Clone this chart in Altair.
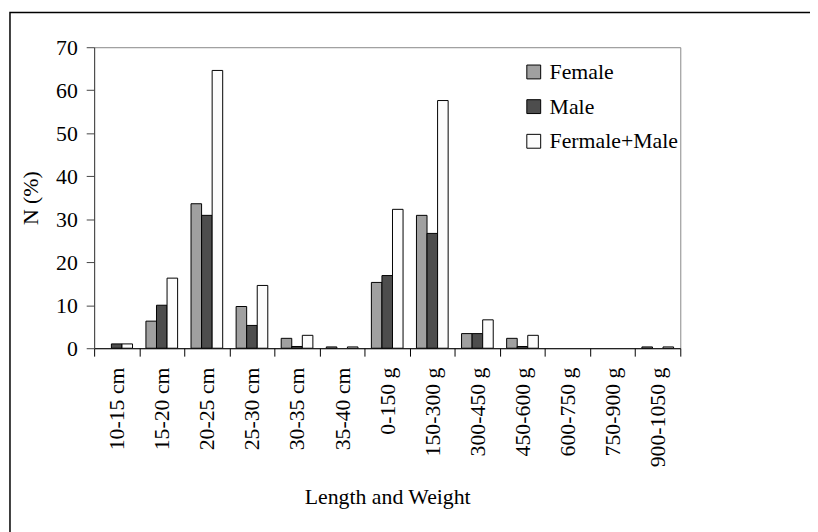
import altair as alt
import pandas as pd

categories = ["10-15 cm", "15-20 cm", "20-25 cm", "25-30 cm", "30-35 cm", "35-40 cm",
              "0-150 g", "150-300 g", "300-450 g", "450-600 g", "600-750 g", "750-900 g",
              "900-1050 g"]
series = ["Female", "Male", "Fermale+Male"]
female = [0.0, 6.3, 33.6, 9.7, 2.3, 0.3, 15.3, 30.9, 3.4, 2.3, 0.0, 0.0, 0.3]
male = [1.0, 10.0, 30.9, 5.3, 0.4, 0.0, 16.9, 26.7, 3.4, 0.4, 0.0, 0.0, 0.0]
both = [1.0, 16.3, 64.6, 14.6, 3.0, 0.3, 32.3, 57.6, 6.6, 3.0, 0.0, 0.0, 0.3]
colors = ["#a0a0a0", "#4d4d4d", "#fcfcfc"]

rows = []
for i, c in enumerate(categories):
    for s, vals in zip(series, [female, male, both]):
        rows.append({"cat": c, "series": s, "value": vals[i]})
df = pd.DataFrame(rows)

FONT = "Liberation Serif, Times New Roman, Times, serif"
FS = 22

bars = alt.Chart(df).mark_bar(stroke="black", strokeWidth=1).encode(
    x=alt.X("cat:N", sort=categories,
            scale=alt.Scale(paddingInner=0, paddingOuter=0),
            axis=alt.Axis(title="Length and Weight", labelAngle=270, tickBand="extent",
                          tickSize=8, labelPadding=11, titlePadding=20,
                          domainColor="black", tickColor="black", grid=False)),
    xOffset=alt.XOffset("series:N", sort=series,
                        scale=alt.Scale(paddingInner=0, paddingOuter=0.635)),
    y=alt.Y("value:Q", scale=alt.Scale(domain=[0, 70]),
            axis=alt.Axis(title="N (%)", values=list(range(0, 71, 10)), tickSize=8,
                          labelPadding=9, titlePadding=13, grid=False,
                          domainColor="#444444", tickColor="#444444")),
    color=alt.Color("series:N", sort=series,
                    scale=alt.Scale(domain=series, range=colors),
                    legend=alt.Legend(title=None, orient="none", legendX=433, legendY=14,
                                      symbolType="square", symbolSize=196,
                                      symbolStrokeColor="black", symbolStrokeWidth=1,
                                      labelFontSize=FS, labelFont=FONT, labelColor="black",
                                      rowPadding=13, labelOffset=5, padding=0)),
    opacity=alt.condition("datum.value > 0", alt.value(1), alt.value(0)),
)

frame = alt.Chart(pd.DataFrame({"a": [0]})).mark_rect(
    filled=False, stroke="black", strokeWidth=1.5
).encode(x=alt.value(-85), x2=alt.value(760), y=alt.value(-35), y2=alt.value(520))

chart = alt.layer(bars, frame).properties(
    width=592, height=304,
    autosize="none",
    padding={"left": 87, "top": 37, "right": 131, "bottom": 183},
).configure_view(stroke="#888888", strokeWidth=1).configure_axis(
    labelFont=FONT, titleFont=FONT, labelFontSize=FS, titleFontSize=FS,
    titleFontWeight="normal", labelColor="black", titleColor="black"
)

chart.save("out.html", embed_options={"renderer": "svg", "actions": False})
